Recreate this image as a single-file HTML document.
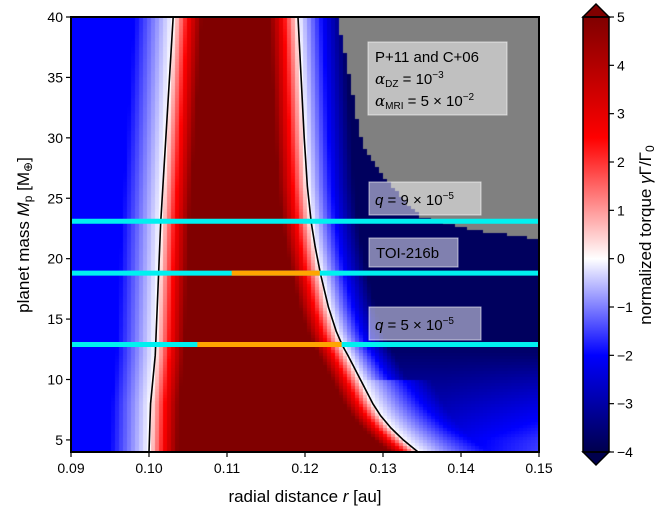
<!DOCTYPE html>
<html><head><meta charset="utf-8"><style>
body{margin:0;background:#fff;width:664px;height:518px;overflow:hidden}
svg{position:absolute;left:0;top:0}
canvas{position:absolute;left:71px;top:17px}
text{font-family:"Liberation Sans","DejaVu Sans",sans-serif;fill:#000}
</style></head><body>
<canvas id="hm" width="468" height="435"></canvas>
<svg id="s" width="664" height="518"></svg>
<script>
// contour data (planet mass -> zero-torque radius, au)
const massL=[4,8,12,23,40];
const xLeft=[0.1000,0.1002,0.1008,0.1015,0.1031];
const massR=[4,5,6,7,8,9,10,11,12,12.8,14,16,18.7,21,23,26,30,35,40];
const xRight=[0.1345,0.1326,0.1310,0.1297,0.1287,0.1279,0.1271,0.1263,0.1255,0.1248,0.1240,0.1230,0.1220,0.1213,0.1208,0.1203,0.1199,0.1195,0.1191];
// undefined (grey) region boundary
const massG=[21.6,22.4,23.5,27.1,29.6,31.5,37.85,40];
const xGrey=[0.1501,0.1412,0.1347,0.1296,0.1273,0.1267,0.1249,0.1241];
// highlighted planet lines
const lineMass=[23.1,18.8,12.9];
const orangeStart=[null,0.1106,0.1062];
const orangeEnd=[null,0.1219,0.1247];
const xTicks=[0.09,0.10,0.11,0.12,0.13,0.14,0.15];
const yTicks=[5,10,15,20,25,30,35,40];
const cbTicks=[-4,-3,-2,-1,0,1,2,3,4,5];

const X0=71,X1=539,Y0=17,Y1=452;
const sx=v=>X0+(v-0.09)/0.06*(X1-X0);
const sy=v=>Y1-(v-4)/36*(Y1-Y0);
function interp(xs,ys,x){if(x<=xs[0])return ys[0];for(let i=1;i<xs.length;i++){if(x<=xs[i]){const t=(x-xs[i-1])/(xs[i]-xs[i-1]);return ys[i-1]+t*(ys[i]-ys[i-1]);}}return ys[ys.length-1];}
function cmap(v){
  v=Math.max(-4,Math.min(5,v));let r,g,b;
  if(v<0){const t=(v+4)/4;if(t<0.5){const u=t/0.5;r=0;g=0;b=77+u*178;}else{const u=(t-0.5)/0.5;r=255*u;g=255*u;b=255;}}
  else{const t=v/5;if(t<0.5){const u=t/0.5;r=255;g=255*(1-u);b=255*(1-u);}else{const u=(t-0.5)/0.5;r=255-127*u;g=0;b=0;}}
  return `rgb(${r|0},${g|0},${b|0})`;
}
function field(x,M){
  const xl=interp(massL,xLeft,M),xr=interp(massR,xRight,M);
  if(x<xl)return -2*Math.min(1,(xl-x)/0.005);
  if(x<=xr)return 5*Math.min(1,Math.min(x-xl,xr-x)/0.0037);
  const A=2.3+1.5*Math.max(0,Math.min(1,(M-5)/8));
  const w=M<10?0.009:0.006;
  let v=-A*Math.min(1,(x-xr)/w);
  if(M<12){const f=(12-M)/8*Math.max(0,(x-0.138)/0.012);v*=1-0.35*f;}
  return v;
}
const ctx=document.getElementById('hm').getContext('2d');
const cw=4,ch=3;
for(let py=0;py<435;py+=ch){
  const M=40-(py+ch/2)/435*36;
  const gx=M>=massG[0]?interp(massG,xGrey,M):9;
  for(let px=0;px<468;px+=cw){
    const x=0.09+(px+cw/2)/468*0.06;
    ctx.fillStyle=x>=gx?'#808080':cmap(field(x,M));
    ctx.fillRect(px,py,cw,ch);
  }
}
const S=document.getElementById('s');const NS='http://www.w3.org/2000/svg';
function el(t,a,p){const e=document.createElementNS(NS,t);for(const k in a)e.setAttribute(k,a[k]);(p||S).appendChild(e);return e;}
// contour lines
let dL='',dR='';
for(let M=4;M<=40;M+=0.5){dL+=(M==4?'M':'L')+sx(interp(massL,xLeft,M))+','+sy(M);dR+=(M==4?'M':'L')+sx(interp(massR,xRight,M))+','+sy(M);}
let c1=el('path',{d:dL,stroke:'#000','stroke-width':1.6,fill:'none'});


let c2=el('path',{d:dR,stroke:'#000','stroke-width':1.6,fill:'none'});


// planet lines
lineMass.forEach((m,i)=>{
  const l=el('line',{x1:X0,x2:X1,y1:sy(m),y2:sy(m),stroke:'#00f0f0','stroke-width':5});
  
  
  if(orangeStart[i]!==null){
    const o=el('line',{x1:sx(orangeStart[i]),x2:sx(orangeEnd[i]),y1:sy(m),y2:sy(m),stroke:'#ffa500','stroke-width':5});
    
    
  }
});
// boxes
function box(x,y,w,h,name){const r=el('rect',{x,y,width:w,height:h,fill:'rgba(255,255,255,0.5)',stroke:'rgba(255,255,255,0.6)','stroke-width':1});}
box(368,42,139,73,'params-box');box(369,182,112,33,'q9-box');box(369,238,89,29,'toi-box');box(369,307,112,33,'q5-box');
S.insertAdjacentHTML('beforeend',`
<text x="375" y="62" font-size="15">P+11 and C+06</text>
<text x="375" y="84" font-size="15"><tspan font-family="DejaVu Serif" font-style="italic">α</tspan><tspan font-size="10" dy="3">DZ</tspan><tspan dy="-3"> = 10</tspan><tspan font-size="10" dy="-6">−3</tspan></text>
<text x="375" y="106" font-size="15"><tspan font-family="DejaVu Serif" font-style="italic">α</tspan><tspan font-size="10" dy="3">MRI</tspan><tspan dy="-3"> = 5 × 10</tspan><tspan font-size="10" dy="-6">−2</tspan></text>
<text x="375" y="205" font-size="15"><tspan font-style="italic">q</tspan> = 9 × 10<tspan font-size="10" dy="-6">−5</tspan></text>
<text x="376" y="258" font-size="15">TOI-216b</text>
<text x="375" y="330" font-size="15"><tspan font-style="italic">q</tspan> = 5 × 10<tspan font-size="10" dy="-6">−5</tspan></text>
<rect x="71" y="17" width="468" height="435" fill="none" stroke="#000" stroke-width="2"/>
<text x="305" y="502" font-size="17" text-anchor="middle">radial distance <tspan font-style="italic">r</tspan> [au]</text>
<text transform="translate(29,235) rotate(-90)" font-size="17" text-anchor="middle">planet mass <tspan font-style="italic">M</tspan><tspan font-size="12" dy="3">p</tspan><tspan dy="-3"> [M</tspan><tspan font-size="12" dy="3">⊕</tspan><tspan dy="-3">]</tspan></text>
<defs><linearGradient id="cg" x1="0" y1="1" x2="0" y2="0"></linearGradient></defs>
<rect x="583" y="17" width="26" height="435" fill="url(#cg)"/>
<polygon points="583,17 596,4 609,17" fill="${cmap(5)}" stroke="#000" stroke-width="1.5"/>
<polygon points="583,452 596,465 609,452" fill="${cmap(-4)}" stroke="#000" stroke-width="1.5"/>
<rect x="583" y="17" width="26" height="435" fill="none" stroke="#000" stroke-width="1.5"/>
<text transform="translate(651,235) rotate(-90)" font-size="17" text-anchor="middle">normalized torque <tspan font-style="italic">γ</tspan>Γ/Γ<tspan font-size="12" dy="3">0</tspan></text>`);
const cg=document.getElementById('cg');
for(let i=0;i<=36;i++){const v=-4+i*0.25;el('stop',{offset:i/36,'stop-color':cmap(v)},cg);}
xTicks.forEach(t=>{
  const x=sx(t);
  const l=el('line',{x1:x,x2:x,y1:Y1,y2:Y1+5,stroke:'#000','stroke-width':1.2});
  
  
  const tx=el('text',{x:x,y:Y1+21,'font-size':14,'text-anchor':'middle'});tx.textContent=t.toFixed(2);
  
  
});
yTicks.forEach(t=>{
  const y=sy(t);
  const l=el('line',{x1:X0-5,x2:X0,y1:y,y2:y,stroke:'#000','stroke-width':1.2});
  
  
  const tx=el('text',{x:X0-8,y:y+5,'font-size':14,'text-anchor':'end'});tx.textContent=t;
  
  
});
cbTicks.forEach(t=>{
  const y=452-(t+4)/9*435;
  const l=el('line',{x1:609,x2:614,y1:y,y2:y,stroke:'#000','stroke-width':1.2});
  
  
  const tx=el('text',{x:617,y:y+5,'font-size':14});tx.textContent=t<0?'−'+(-t):t;
  
  
});
</script>
</body></html>
